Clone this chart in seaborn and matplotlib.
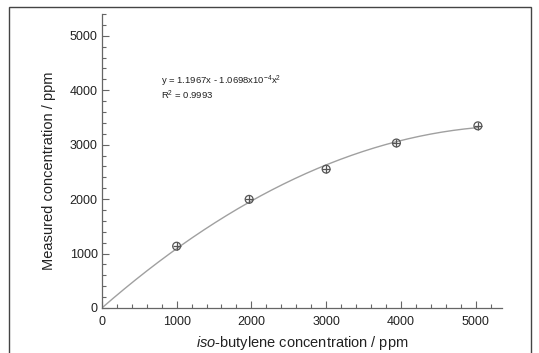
import numpy as np
import pandas as pd
import matplotlib
matplotlib.use('Agg')
import matplotlib.pyplot as plt
from matplotlib.patches import Rectangle
from matplotlib.ticker import MultipleLocator
import seaborn as sns

# data
iso_butylene = [1000, 1970, 3000, 3940, 5030]
measured = [1135, 1995, 2550, 3030, 3345]
# fit shown in the chart
fit_a = 1.1967
fit_b = -1.0698e-4
fit_x_max = 5030

sns.set_theme(style='white')
plt.rcParams['font.family'] = ['Liberation Sans', 'DejaVu Sans']
plt.rcParams['mathtext.fontset'] = 'custom'
plt.rcParams['mathtext.rm'] = 'Liberation Sans'
plt.rcParams['mathtext.it'] = 'Liberation Sans:italic'

fig = plt.figure(figsize=(5.39, 3.53), dpi=100)
ax = fig.add_axes([0.189, 0.1275, 0.742, 0.833])

df = pd.DataFrame({'x': iso_butylene, 'y': measured})
xs = np.linspace(0, fit_x_max, 200)
fit = pd.DataFrame({'x': xs, 'y': fit_a * xs + fit_b * xs ** 2})

sns.lineplot(data=fit, x='x', y='y', ax=ax, color='#a0a0a0', lw=1.0)
sns.scatterplot(data=df, x='x', y='y', ax=ax, marker='o', s=32,
                facecolor='none', edgecolor='#555555', linewidth=0.9, zorder=3)
sns.scatterplot(data=df, x='x', y='y', ax=ax, marker='+', s=32,
                color='#555555', linewidth=0.9, zorder=3)

ax.set_xlim(0, 5350)
ax.set_ylim(0, 5400)
ax.xaxis.set_major_locator(MultipleLocator(1000))
ax.xaxis.set_minor_locator(MultipleLocator(200))
ax.yaxis.set_major_locator(MultipleLocator(1000))
ax.yaxis.set_minor_locator(MultipleLocator(200))

for side in ['top', 'right']:
    ax.spines[side].set_visible(False)
for side in ['left', 'bottom']:
    ax.spines[side].set_color('#666666')
    ax.spines[side].set_linewidth(0.9)

ax.tick_params(which='both', direction='in', colors='#666666', labelcolor='#222222',
               labelsize=9, width=0.8)
ax.tick_params(which='major', length=5)
ax.tick_params(which='minor', length=3)
ax.tick_params(axis='x', which='both', bottom=True, pad=6)
ax.tick_params(axis='y', which='both', left=True, pad=3)

ax.set_xlabel(r'$\it{iso}$-butylene concentration / ppm', fontsize=10.5, color='#222222')
ax.set_ylabel('Measured concentration / ppm', fontsize=10.5, color='#222222')
ax.xaxis.set_label_coords(0.5, -0.09)
ax.yaxis.set_label_coords(-0.115, 0.466)

ax.text(790, 4160, r'y = 1.1967x - 1.0698x10$^{-4}$x$^{2}$', fontsize=6.8,
        color='#222222', va='center')
ax.text(790, 3900, r'R$^{2}$ = 0.9993', fontsize=6.8, color='#222222', va='center')

fig.patches.append(Rectangle((0.0176, -0.02), 0.968, 1.0, transform=fig.transFigure,
                             fill=False, edgecolor='#444444', lw=1.0))

fig.savefig('out.png', dpi=100)
